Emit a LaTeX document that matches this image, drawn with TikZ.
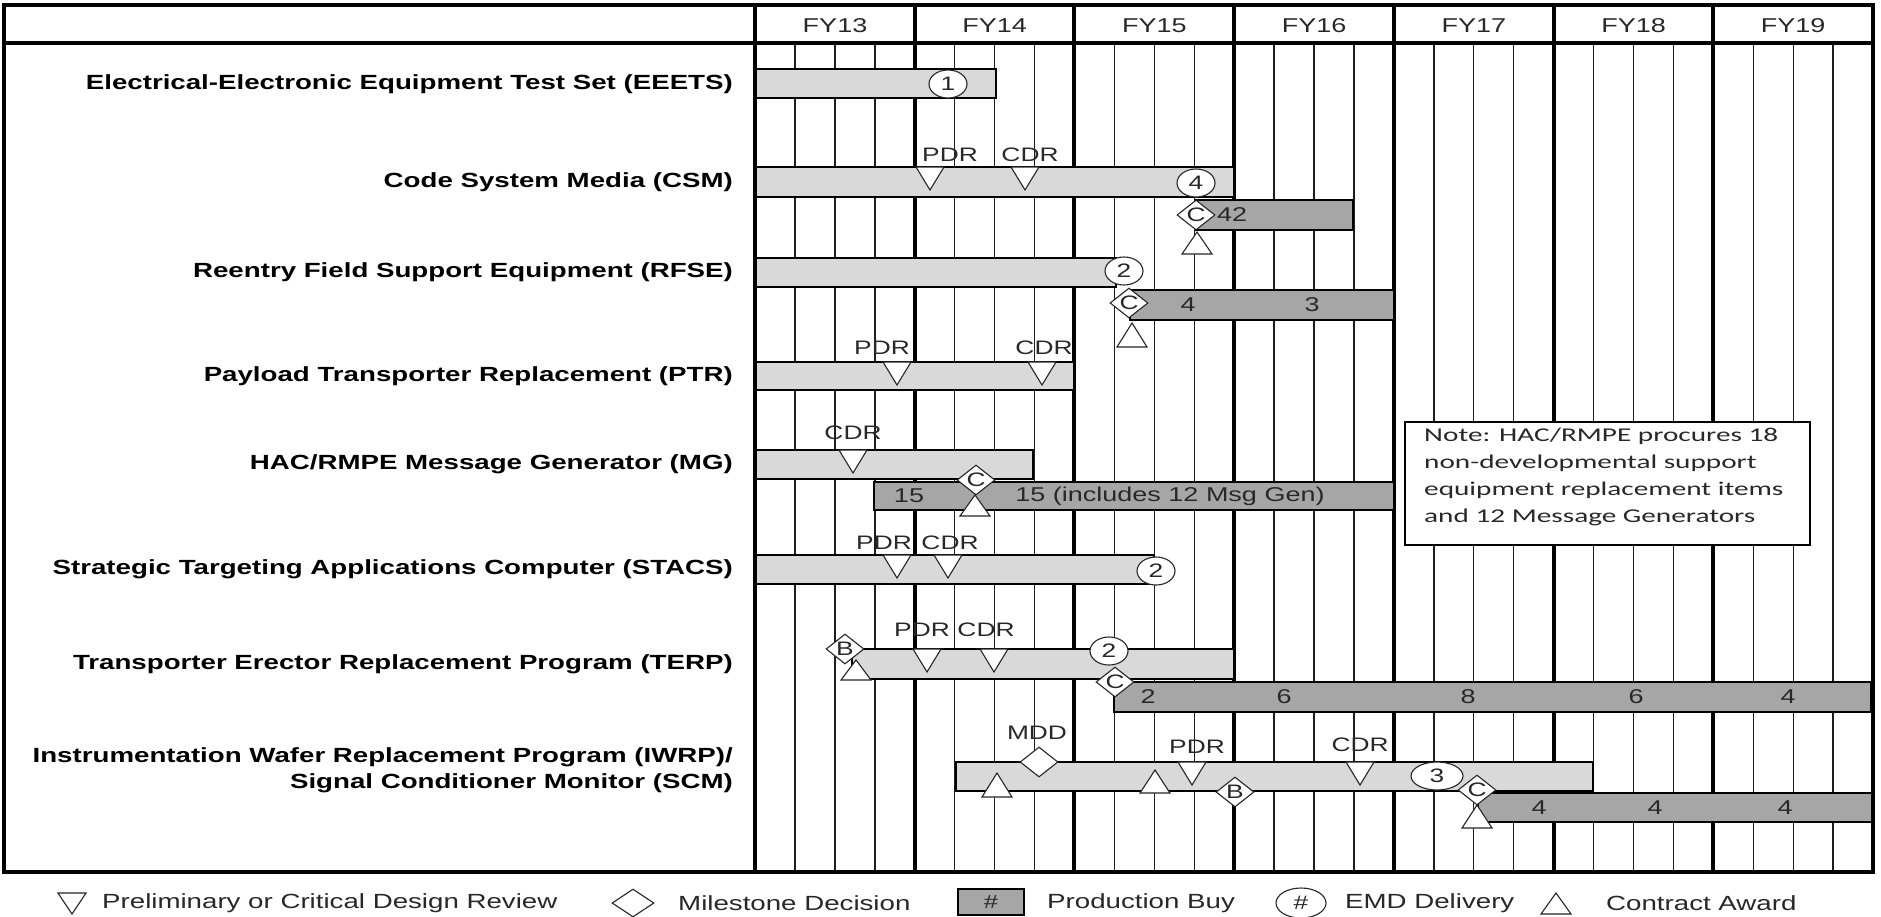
\documentclass[tikz,border=0pt]{standalone}
\usepackage{fontspec}
\setmainfont{Liberation Sans}[FakeStretch=1.35]
\newfontfamily\notefont{Carlito}[FakeStretch=1.5]
\usepackage{xcolor}
\usepackage{tikz}
\usetikzlibrary{shapes.geometric}
\definecolor{barlight}{RGB}{217,217,217}
\definecolor{bardark}{RGB}{166,166,166}
\definecolor{gridblack}{RGB}{30,30,30}
\definecolor{textgray}{RGB}{40,40,40}

% review triangle (x, top) and award triangle (x, top, bottom)
\newcommand{\reviewmark}[2]{\draw[markline] (#1-14,#2) -- (#1+14,#2) -- (#1,#2+23) -- cycle;}
\newcommand{\awardmark}[3]{\draw[markline] (#1-15,#3) -- (#1+15,#3) -- (#1,#2) -- cycle;}

\begin{document}
\begin{tikzpicture}[x=1pt, y=-1pt,
  quarterline/.style={gridblack, line width=1.4pt},
  yearline/.style={black, line width=4pt},
  frameline/.style={black, line width=4pt},
  lightbar/.style={fill=barlight, draw=black, line width=2.5pt},
  darkbar/.style={fill=bardark, draw=black, line width=2.5pt},
  markline/.style={fill=white, draw=black!85, line width=1.1pt},
  milestone/.style={diamond, draw=black!85, fill=white, line width=1.1pt, aspect=1.3,
    minimum width=38pt, minimum height=30pt, inner sep=0pt, font=\fontsize{19.5}{22}\selectfont, text=textgray},
  delivery/.style={ellipse, draw=black!85, fill=white, line width=1.1pt,
    minimum width=38pt, minimum height=28pt, inner sep=0pt, font=\fontsize{19.5}{22}\selectfont, text=textgray},
  rowlabel/.style={anchor=east, inner sep=0pt, font=\fontsize{20.5}{26}\selectfont\bfseries},
  yearlabel/.style={inner sep=0pt, font=\fontsize{20}{24}\selectfont, text=textgray},
  revtext/.style={inner sep=0pt, font=\fontsize{19.5}{22}\selectfont, text=textgray},
  barnum/.style={inner sep=0pt, font=\fontsize{20}{22}\selectfont, text=textgray},
  keytext/.style={anchor=west, inner sep=0pt, font=\fontsize{20.5}{24}\selectfont, text=textgray}]
\useasboundingbox (0,0) rectangle (1881,916);
\fill[white] (0,0) rectangle (1881,916);

% Quarter and year grid
\foreach \q in {1,...,27} \draw[quarterline] ({755+39.93*\q},43) -- ({755+39.93*\q},872);
\foreach \k in {1,...,6} \draw[yearline] ({755+159.7*\k},5) -- ({755+159.7*\k},872);
\foreach \yr [count=\k from 0] in {13,...,19}
  \node[yearlabel] (fy\yr) at ({835+159.7*\k},26) {FY\yr};

% Program names
\node[rowlabel] (eeets) at (733,84) {Electrical-Electronic Equipment Test Set (EEETS)};
\node[rowlabel] (csm) at (733,182) {Code System Media (CSM)};
\node[rowlabel] (rfse) at (733,272) {Reentry Field Support Equipment (RFSE)};
\node[rowlabel] (ptr) at (733,376) {Payload Transporter Replacement (PTR)};
\node[rowlabel] (mg) at (733,464) {HAC/RMPE Message Generator (MG)};
\node[rowlabel] (stacs) at (733,569) {Strategic Targeting Applications Computer (STACS)};
\node[rowlabel] (terp) at (733,664) {Transporter Erector Replacement Program (TERP)};
\node[rowlabel, align=right] (iwrp) at (733,770) {Instrumentation Wafer Replacement Program (IWRP)/\\Signal Conditioner Monitor (SCM)};

% EEETS
\draw[lightbar] (755,69) rectangle (996,98);
\node[delivery] (eeetsemd) at (948,84) {1};

% CSM
\draw[lightbar] (755,167) rectangle (1234,197);
\draw[darkbar] (1196,200) rectangle (1353,230);
\reviewmark{930}{167} \reviewmark{1025}{167}
\node[revtext] (csmpdr) at (950,155) {PDR};
\node[revtext] (csmcdr) at (1030,155) {CDR};
\node[delivery] (csmemd) at (1196,183) {4};
\awardmark{1197}{232}{254}
\node[milestone] (csmc) at (1196,215) {C};
\node[barnum] (csmbuy) at (1232,215) {42};

% RFSE
\draw[lightbar] (755,258) rectangle (1116,287);
\draw[darkbar] (1130,290) rectangle (1394,320);
\node[delivery] (rfseemd) at (1124,271) {2};
\awardmark{1132}{323}{347}
\node[milestone] (rfsec) at (1129,303) {C};
\node[barnum] (rfsebuya) at (1188,305) {4};
\node[barnum] (rfsebuyb) at (1312,305) {3};

% PTR
\draw[lightbar] (755,362) rectangle (1074,390);
\reviewmark{897}{362} \reviewmark{1042}{362}
\node[revtext] (ptrpdr) at (882,348) {PDR};
\node[revtext] (ptrcdr) at (1044,348) {CDR};

% MG
\draw[lightbar] (755,450) rectangle (1033,479);
\draw[darkbar] (874,482) rectangle (1394,510);
\reviewmark{853}{450}
\node[revtext] (mgcdr) at (853,433) {CDR};
\node[barnum] (mgbuya) at (909,496) {15};
\awardmark{975}{495}{516}
\node[milestone] (mgc) at (976,480) {C};
\node[barnum] (mgbuyb) at (1170,496) {15 (includes 12 Msg Gen)};

% STACS
\draw[lightbar] (755,555) rectangle (1154,584);
\reviewmark{897}{555} \reviewmark{948}{555}
\node[revtext] (stacspdr) at (884,543) {PDR};
\node[revtext] (stacscdr) at (950,543) {CDR};
\node[delivery] (stacsemd) at (1156,571) {2};

% TERP
\draw[lightbar] (852,649) rectangle (1234,679);
\draw[darkbar] (1114,682) rectangle (1871,712);
\reviewmark{927}{649} \reviewmark{994}{649}
\node[revtext] (terppdr) at (922,630) {PDR};
\node[revtext] (terpcdr) at (986,630) {CDR};
\awardmark{856}{660}{680}
\node[milestone] (terpb) at (845,649) {B};
\node[delivery] (terpemd) at (1109,651) {2};
\node[milestone] (terpc) at (1115,682) {C};
\node[barnum] (terpbuya) at (1148,697) {2};
\node[barnum] (terpbuyb) at (1284,697) {6};
\node[barnum] (terpbuyc) at (1468,697) {8};
\node[barnum] (terpbuyd) at (1636,697) {6};
\node[barnum] (terpbuye) at (1788,697) {4};

% IWRP/SCM
\draw[lightbar] (956,762) rectangle (1593,791);
\draw[darkbar] (1478,793) rectangle (1872,822);
\reviewmark{1192}{762} \reviewmark{1360}{762}
\node[revtext] (iwrpmddtext) at (1037,733) {MDD};
\node[revtext] (iwrppdr) at (1197,747) {PDR};
\node[revtext] (iwrpcdr) at (1360,745) {CDR};
\awardmark{997}{773}{797} \awardmark{1155}{770}{793}
\node[milestone] (iwrpmdd) at (1039,762) {};
\node[milestone] (iwrpb) at (1235,792) {B};
\node[delivery, minimum width=52pt] (iwrpemd) at (1437,776) {3};
\awardmark{1477}{805}{828}
\node[milestone] (iwrpc) at (1477,790) {C};
\node[barnum] (iwrpbuya) at (1539,808) {4};
\node[barnum] (iwrpbuyb) at (1655,808) {4};
\node[barnum] (iwrpbuyc) at (1785,808) {4};

% Note
\draw[fill=white, draw=black, line width=2.5pt] (1405,422) rectangle (1810,545);
\node[anchor=north west, inner sep=0pt, align=left, font=\notefont\fontsize{19.5}{27}\selectfont, text=textgray] (note) at (1424,428)
  {Note: HAC/RMPE procures 18\\non-developmental support\\equipment replacement items\\and 12 Message Generators};

% Frame
\draw[frameline] (4,5) rectangle (1873,872);
\draw[frameline] (4,43) -- (1873,43);
\draw[frameline] (755,5) -- (755,872);

% Legend
\draw[markline] (58,893) -- (86,893) -- (72,914) -- cycle;
\node[keytext] (keyreview) at (102,903) {Preliminary or Critical Design Review};
\node[milestone, minimum width=42pt, minimum height=28pt] (keymilestone) at (633,903) {};
\node[keytext] (keymilestonetext) at (678,903) {Milestone Decision};
\node[fill=bardark, draw=black, line width=2.5pt, minimum width=66pt, minimum height=26pt, inner sep=0pt,
  font=\fontsize{19}{22}\selectfont, text=textgray] (keybuy) at (991,902) {\#};
\node[keytext] (keybuytext) at (1047,903) {Production Buy};
\node[delivery, minimum width=50pt, minimum height=30pt] (keyemd) at (1301,903) {\#};
\node[keytext] (keyemdtext) at (1345,903) {EMD Delivery};
\draw[markline] (1541,914) -- (1571,914) -- (1556,893) -- cycle;
\node[keytext] (keyaward) at (1606,903) {Contract Award};
\end{tikzpicture}
\end{document}
